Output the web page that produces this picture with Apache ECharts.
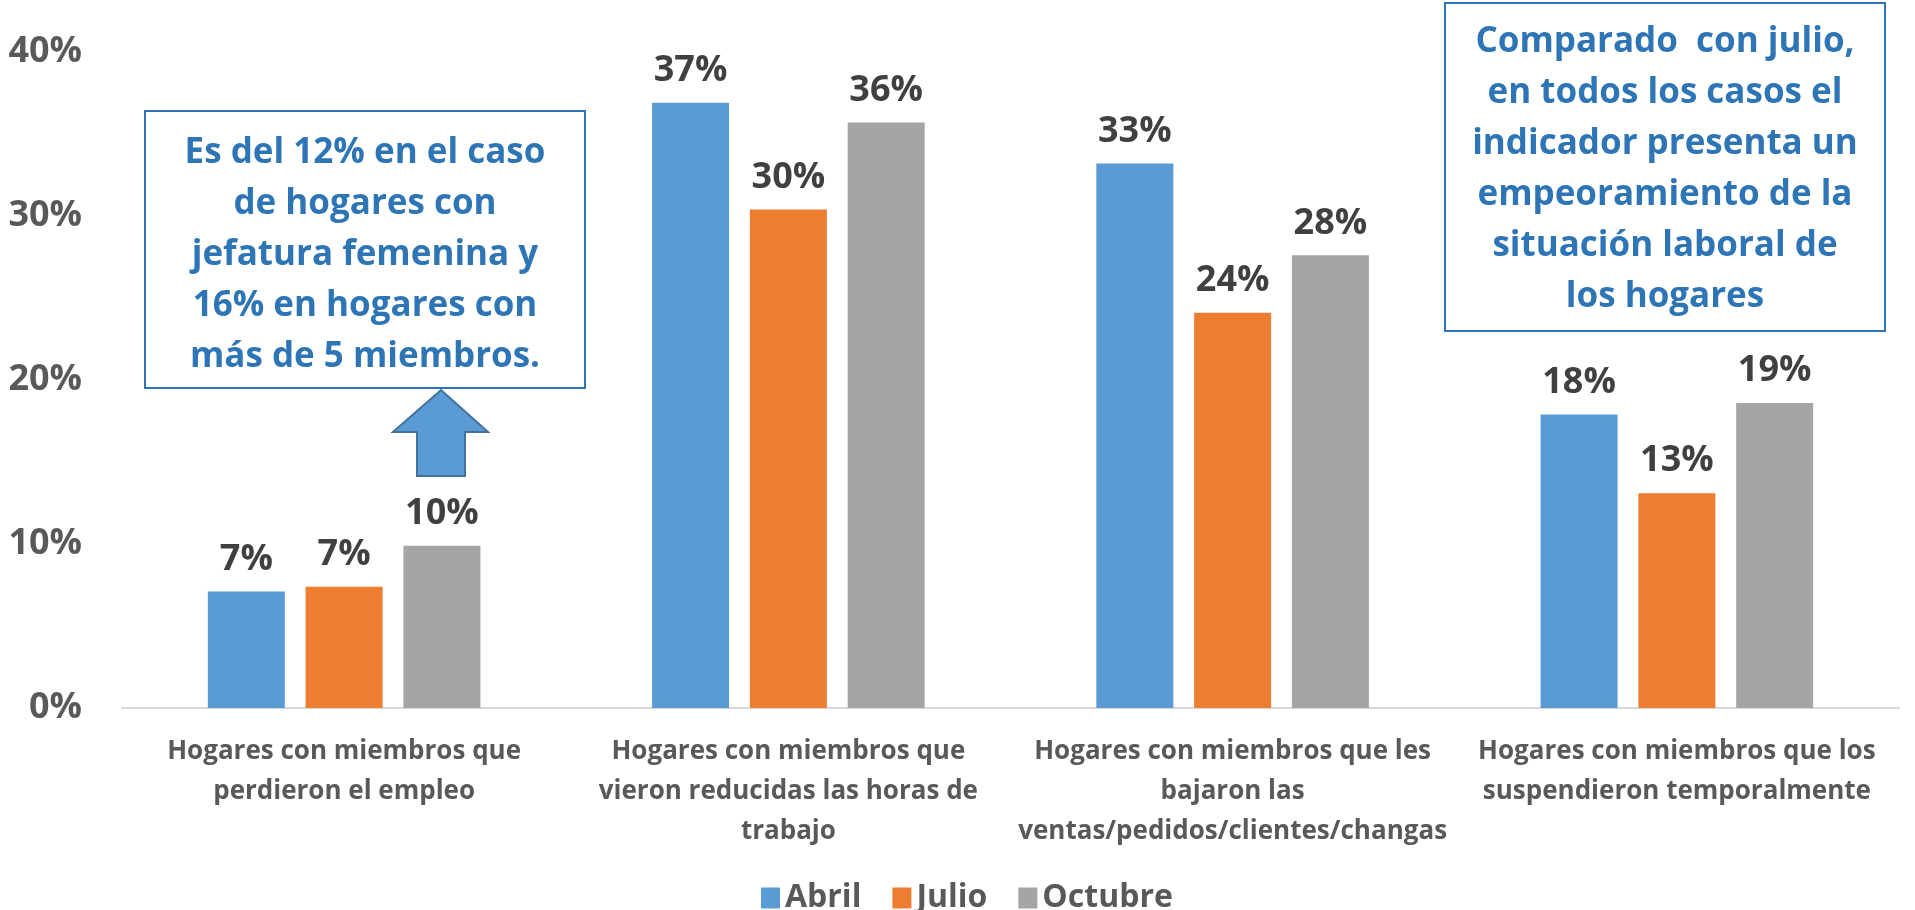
<!DOCTYPE html>
<html>
<head>
<meta charset="utf-8">
<script src="https://cdn.jsdelivr.net/npm/echarts@6/dist/echarts.min.js"></script>
<style>
  html, body { margin: 0; padding: 0; background: #fff; }
  #chart { width: 1915px; height: 910px; }
</style>
</head>
<body>
<div id="chart"></div>
<script>
const categories = [
  "Hogares con miembros que\nperdieron el empleo",
  "Hogares con miembros que\nvieron reducidas las horas de\ntrabajo",
  "Hogares con miembros que les\nbajaron las\nventas/pedidos/clientes/changas",
  "Hogares con miembros que los\nsuspendieron temporalmente"
];
const abril = [0.071, 0.369, 0.332, 0.179];
const julio = [0.074, 0.304, 0.241, 0.131];
const octubre = [0.099, 0.357, 0.276, 0.186];
const yTicks = [0, 0.1, 0.2, 0.3, 0.4];

const FONT = "'Open Sans', sans-serif";

const chart = echarts.init(document.getElementById("chart"));

const barLabel = {
  show: true,
  position: "top",
  distance: 14,
  color: "#404040",
  fontFamily: FONT,
  fontWeight: "bold",
  fontSize: 36,
  formatter: (p) => Math.round(p.value * 100) + "%",
};

const makeSeries = (name, data, color) => ({
  name: name,
  type: "bar",
  data: data,
  barWidth: 77,
  barGap: "27%",
  itemStyle: { color: color },
  label: barLabel,
});

const option = {
  animation: false,
  grid: { left: 122, right: 16, top: 52, bottom: 202 },
  xAxis: {
    type: "category",
    data: categories,
    axisLine: { lineStyle: { color: "#d9d9d9", width: 2 } },
    axisTick: { show: false },
    axisLabel: {
      margin: 24,
      color: "#595959",
      fontFamily: FONT,
      fontWeight: "bold",
      fontSize: 26,
      lineHeight: 40,
      interval: 0,
    },
  },
  yAxis: {
    type: "value",
    min: yTicks[0],
    max: yTicks[yTicks.length - 1],
    interval: 0.1,
    splitLine: { show: false },
    axisLine: { show: false },
    axisTick: { show: false },
    axisLabel: {
      margin: 40,
      color: "#595959",
      fontFamily: FONT,
      fontWeight: "bold",
      fontSize: 36,
      formatter: (v) => Math.round(v * 100) + "%",
    },
  },
  legend: {
    top: 877,
    left: 756,
    itemWidth: 19,
    itemHeight: 21,
    itemGap: 31,
    icon: "rect",
    textStyle: {
      color: "#595959",
      fontFamily: FONT,
      fontWeight: "bold",
      fontSize: 32,
    },
    data: ["Abril", "Julio", "Octubre"],
  },
  series: [
    makeSeries("Abril", abril, "#5b9bd5"),
    makeSeries("Julio", julio, "#ed7d31"),
    makeSeries("Octubre", octubre, "#a5a5a5"),
  ],
  graphic: [
    {
      type: "rect",
      shape: { x: 145, y: 111, width: 440, height: 277 },
      style: { fill: "#fff", stroke: "#2e75b6", lineWidth: 2 },
    },
    {
      type: "text",
      x: 365,
      y: 255,
      style: {
        text: "Es del 12% en el caso\nde hogares con\njefatura femenina y\n16% en hogares con\nmás de 5 miembros.",
        fill: "#2e75b6",
        font: "bold 35px " + FONT,
        lineHeight: 51,
        align: "center",
        verticalAlign: "middle",
      },
    },
    {
      type: "polygon",
      shape: {
        points: [[441, 390], [488, 432], [465, 432], [465, 476], [417, 476], [417, 432], [393, 432]],
      },
      style: { fill: "#5b9bd5", stroke: "#41719c", lineWidth: 2 },
    },
    {
      type: "rect",
      shape: { x: 1445, y: 3, width: 440, height: 328 },
      style: { fill: "#fff", stroke: "#2e75b6", lineWidth: 2 },
    },
    {
      type: "text",
      x: 1665,
      y: 170,
      style: {
        text: "Comparado  con julio,\nen todos los casos el\nindicador presenta un\nempeoramiento de la\nsituación laboral de\nlos hogares",
        fill: "#2e75b6",
        font: "bold 35px " + FONT,
        lineHeight: 51,
        align: "center",
        verticalAlign: "middle",
      },
    },
  ],
};

chart.setOption(option);
</script>
</body>
</html>
